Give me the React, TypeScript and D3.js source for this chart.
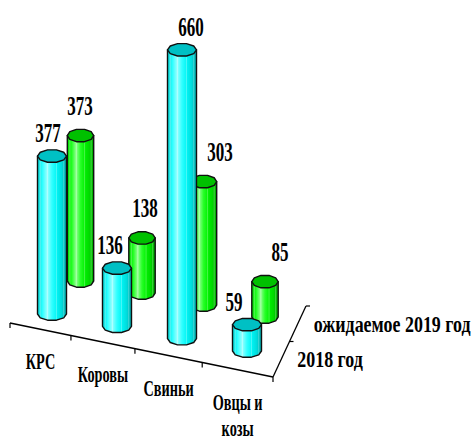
import React from "react";
import * as d3 from "d3";

// ---- data ----
const categories = ["КРС", "Коровы", "Свиньи", "Овцы и козы"];
const categoryLines = [["КРС"], ["Коровы"], ["Свиньи"], ["Овцы и", "козы"]];
const seriesNames = ["2018 год", "ожидаемое 2019 год"];
const values2018 = [377, 136, 660, 59];
const values2019 = [373, 138, 303, 85];

// ---- layout (not data) ----
const W = 475;
const H = 440;
const FONT = "'Liberation Serif', 'Times New Roman', serif";

type SeriesLayout = {
  values: number[];
  xRange: [number, number];
  yRange: [number, number];
  kRange: [number, number];
  rx: number;
  side: string[];
  top: string;
  labelDy: number;
  labelDx: number[];
  id: string;
};

const seriesLayouts: SeriesLayout[] = [
  {
    values: values2018,
    xRange: [52, 247],
    yRange: [314, 351],
    kRange: [0.419, 0.447],
    rx: 14.5,
    side: ["#00d4d4", "#2affff", "#9affff", "#30ffff", "#00f4f4", "#00dcdc", "#00a8a8"],
    top: "#00c0c4",
    labelDy: -14,
    labelDx: [-4, -7, 9, -13],
    id: "cy",
  },
  {
    values: values2019,
    xRange: [80.5, 265],
    yRange: [281, 317],
    kRange: [0.39, 0.416],
    rx: 13.2,
    side: ["#00d400", "#20ff20", "#90ff90", "#28ff28", "#00f000", "#00d800", "#00a000"],
    top: "#00c000",
    labelDy: -21,
    labelDx: [-0.5, 3, 16.5, 15],
    id: "gr",
  },
];

const RY = 6.5;
const N = 10;

function ring(cx: number, cy: number, rx: number, ry: number) {
  return d3.range(N).map((k) => {
    const a = (k * 2 * Math.PI) / N;
    return [cx + rx * Math.cos(a), cy + ry * Math.sin(a)] as [number, number];
  });
}

function Cylinder({ cx, by, ty, rx, gid, top }: { cx: number; by: number; ty: number; rx: number; gid: string; top: string }) {
  const topR = ring(cx, ty, rx, RY);
  const botR = ring(cx, by, rx, RY);
  const line = d3.line();
  const bodyPts: [number, number][] = [topR[0], ...botR.slice(0, 6), topR[5]];
  const body = line(bodyPts) + "Z";
  const topPath = line(topR) + "Z";
  return (
    <g>
      <path d={body} fill={`url(#${gid})`} stroke="none" />
      {d3.range(1, 5).map((k) => (
        <line
          key={k}
          x1={topR[k][0]}
          y1={topR[k][1]}
          x2={botR[k][0]}
          y2={botR[k][1]}
          stroke="#ffffff"
          strokeOpacity={0.35}
          strokeWidth={0.8}
        />
      ))}
      <path d={body} fill="none" stroke="#101010" strokeWidth={1.4} strokeLinejoin="round" />
      <path d={topPath} fill={top} stroke="#101010" strokeWidth={1.4} strokeLinejoin="round" />
    </g>
  );
}

export default function App() {
  const catIdx = d3.range(categories.length);

  // perspective mapping for the floor's front edge
  const persp = (t: number) => (t * 0.905) / (1 + (0.905 - 1) * t);
  const floorX = d3.scaleLinear().domain([0, 1]).range([10, 273]);
  const floorY = d3.scaleLinear().domain([10, 273]).range([323, 377]);
  const tickX = (i: number) => floorX(persp(i / categories.length));

  const depthX = d3.scaleLinear().domain([0, 1]).range([273, 306]);
  const depthY = d3.scaleLinear().domain([0, 1]).range([377, 306]);

  const bars: React.ReactNode[] = [];
  const labels: React.ReactNode[] = [];
  // back series first
  [1, 0].forEach((s) => {
    const L = seriesLayouts[s];
    const xs = d3.scaleLinear().domain([0, categories.length - 1]).range(L.xRange);
    const ys = d3.scaleLinear().domain([0, categories.length - 1]).range(L.yRange);
    const ks = d3.scaleLinear().domain([0, categories.length - 1]).range(L.kRange);
    catIdx.forEach((i) => {
      const v = L.values[i];
      const h = d3.scaleLinear().domain([0, 1]).range([0, ks(i)]);
      const cx = xs(i);
      const by = ys(i);
      const ty = by - h(v);
      bars.push(<Cylinder key={`b${s}-${i}`} cx={cx} by={by} ty={ty} rx={L.rx} gid={L.id} top={L.top} />);
      labels.push(
        <text
          key={`l${s}-${i}`}
          transform={`translate(${cx + L.labelDx[i]},${ty + L.labelDy}) scale(0.63,1)`}
          textAnchor="middle"
          fontFamily={FONT}
          fontWeight="bold"
          fontSize={27}
          fill="#000"
        >
          {v}
        </text>
      );
    });
  });

  return (
    <svg width={W} height={H} style={{ position: "absolute", left: 0, top: 0, background: "#fff" }}>
      <defs>
        {seriesLayouts.map((L) => (
          <linearGradient key={L.id} id={L.id} x1="0" x2="1" y1="0" y2="0">
            {L.side.map((c, j) => (
              <stop key={j} offset={j / (L.side.length - 1)} stopColor={c} />
            ))}
          </linearGradient>
        ))}
      </defs>

      {/* floor front edge */}
      <line x1={floorX(0)} y1={floorY(floorX(0))} x2={floorX(1)} y2={floorY(floorX(1))} stroke="#000" strokeWidth={1.3} />
      {d3.range(categories.length + 1).map((i) => {
        const x = tickX(i);
        const y = floorY(x);
        return <line key={`t${i}`} x1={x} y1={y} x2={x} y2={y + 5} stroke="#000" strokeWidth={1.2} />;
      })}
      {/* depth edge */}
      <line x1={depthX(0)} y1={depthY(0)} x2={depthX(1)} y2={depthY(1)} stroke="#000" strokeWidth={1.3} />
      {[0.5, 1].map((t) => (
        <line key={`d${t}`} x1={depthX(t)} y1={depthY(t)} x2={depthX(t) + 4} y2={depthY(t)} stroke="#000" strokeWidth={1.2} />
      ))}

      {bars}
      {labels}

      {/* category labels */}
      {catIdx.map((i) => {
        const x = (tickX(i) + tickX(i + 1)) / 2;
        const y = floorY(x) + 40;
        return categoryLines[i].map((ln, j) => (
          <text
            key={`c${i}-${j}`}
            transform={`translate(${x},${y + j * 26}) scale(0.62,1)`}
            textAnchor="middle"
            fontFamily={FONT}
            fontWeight="bold"
            fontSize={23}
            fill="#000"
          >
            {ln}
          </text>
        ));
      })}

      {/* series labels along depth edge */}
      {seriesNames.map((name, s) => {
        const t = 0.25 + 0.5 * s;
        return (
          <text
            key={`s${s}`}
            transform={`translate(${depthX(t) + 16},${depthY(t) + 8}) scale(0.78,1)`}
            fontFamily={FONT}
            fontWeight="bold"
            fontSize={23}
            fill="#000"
          >
            {name}
          </text>
        );
      })}
    </svg>
  );
}
